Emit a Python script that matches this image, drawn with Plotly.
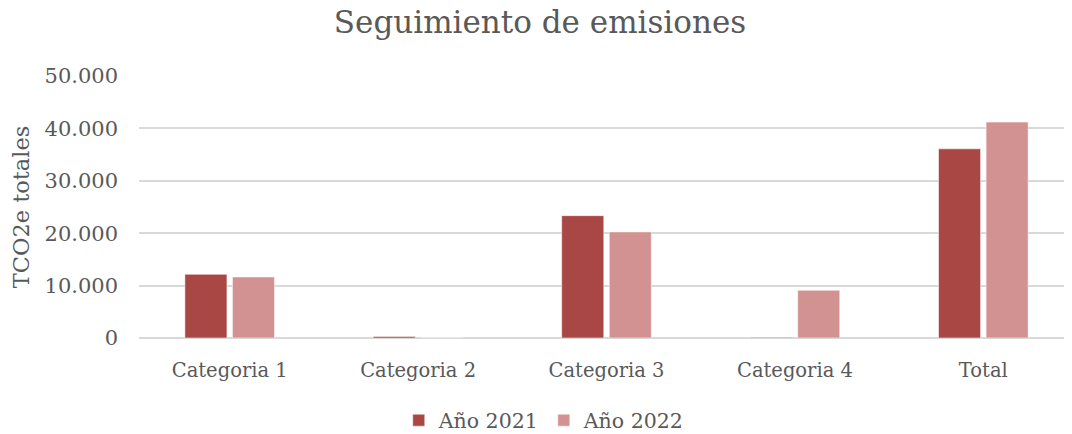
import plotly.graph_objects as go

categories = ["Categoria 1", "Categoria 2", "Categoria 3", "Categoria 4", "Total"]
anio_2021 = [12150, 300, 23350, 120, 36100]
anio_2022 = [11650, 0, 20250, 9100, 41200]
y_ticks = [0, 10000, 20000, 30000, 40000, 50000]

FONT = "DejaVu Serif"
TXT = "#595959"

fig = go.Figure()
fig.add_trace(go.Bar(name="Año 2021", x=categories, y=anio_2021,
                     marker=dict(color="#A94744", line=dict(color="rgba(255,255,255,0.5)", width=1))))
fig.add_trace(go.Bar(name="Año 2022", x=categories, y=anio_2022,
                     marker=dict(color="#D39292", line=dict(color="rgba(255,255,255,0.5)", width=1))))

fig.update_layout(
    width=1064, height=426,
    margin=dict(l=131, r=0, t=68, b=95.5, autoexpand=False),
    paper_bgcolor="white", plot_bgcolor="white",
    separators=",.",
    barmode="group", bargap=0.495, bargroupgap=0.116,
    font=dict(family=FONT, color=TXT, size=19),
    title=dict(text="Seguimiento de emisiones", x=0.5, xref="container", xanchor="center",
               y=0.993, yanchor="top", yref="container", pad=dict(t=0, b=0),
               font=dict(family=FONT, size=31, color=TXT)),
    xaxis=dict(type="category", range=[-0.4814, 4.4706], showgrid=False, showline=False,
               automargin=False, ticks="", ticklabelstandoff=18,
               tickfont=dict(size=19.5, color=TXT)),
    yaxis=dict(range=[0, 50000], tickvals=y_ticks, tickformat=",d", automargin=False,
               showgrid=True, gridcolor="#D9D9D9", gridwidth=1.5,
               zeroline=True, zerolinecolor="#D9D9D9", zerolinewidth=1.5,
               ticks="", ticklabelstandoff=20, tickfont=dict(size=21, color=TXT),
               title=dict(text="TCO2e totales", font=dict(size=22.5, color=TXT), standoff=8)),
    legend=dict(orientation="h", x=0.504, xanchor="center", xref="container",
                y=0.032, yanchor="middle", yref="container",
                font=dict(size=20.5, color=TXT), itemwidth=30, traceorder="normal"),
)

fig.write_html("out.html")
